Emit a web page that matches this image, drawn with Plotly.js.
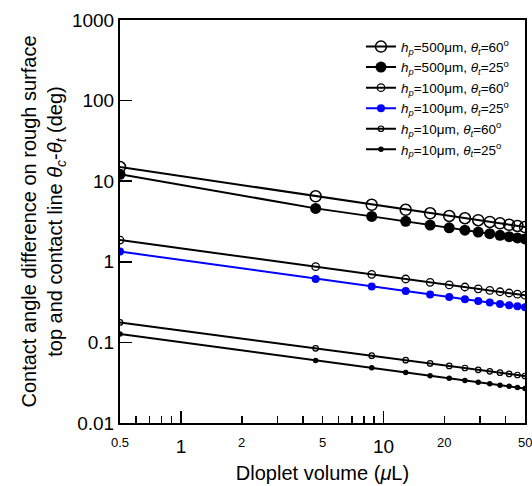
<!DOCTYPE html>
<html>
<head>
<meta charset="utf-8">
<script src="https://cdn.plot.ly/plotly-3.0.1.min.js"></script>
<style>html,body{margin:0;padding:0;background:#fff;}#chart{width:532px;height:486px;}</style>
</head>
<body>
<div id="chart"></div>
<script>
// Droplet volume (µL)
const volume = [0.5, 4.625, 8.75, 12.875, 17, 21.125, 25.25, 29.375, 33.5, 37.625, 41.75, 45.875, 50];
// Contact angle difference (deg)
const hp500_t60 = [15.0, 6.5, 5.1, 4.42, 4.0, 3.70, 3.47, 3.28, 3.12, 3.0, 2.88, 2.78, 2.70];
const hp500_t25 = [12.2, 4.6, 3.66, 3.18, 2.86, 2.64, 2.47, 2.34, 2.23, 2.13, 2.05, 1.98, 1.92];
const hp100_t60 = [1.86, 0.87, 0.70, 0.612, 0.557, 0.517, 0.487, 0.462, 0.442, 0.425, 0.410, 0.397, 0.385];
const hp100_t25 = [1.34, 0.612, 0.493, 0.433, 0.394, 0.365, 0.344, 0.327, 0.312, 0.300, 0.290, 0.281, 0.272];
const hp10_t60 = [0.177, 0.0845, 0.0684, 0.0601, 0.0548, 0.0510, 0.0481, 0.0457, 0.0438, 0.0421, 0.0406, 0.0394, 0.0383];
const hp10_t25 = [0.127, 0.0598, 0.0483, 0.0424, 0.0386, 0.0358, 0.0337, 0.0321, 0.0307, 0.0295, 0.0285, 0.0276, 0.0268];

const seriesNames = [
  '<i>h</i><sub><i>p</i></sub>=500\u03bcm, <i>\u03b8</i><sub><i>t</i></sub>=60<sup>o</sup>',
  '<i>h</i><sub><i>p</i></sub>=500\u03bcm, <i>\u03b8</i><sub><i>t</i></sub>=25<sup>o</sup>',
  '<i>h</i><sub><i>p</i></sub>=100\u03bcm, <i>\u03b8</i><sub><i>t</i></sub>=60<sup>o</sup>',
  '<i>h</i><sub><i>p</i></sub>=100\u03bcm, <i>\u03b8</i><sub><i>t</i></sub>=25<sup>o</sup>',
  '<i>h</i><sub><i>p</i></sub>=10\u03bcm, <i>\u03b8</i><sub><i>t</i></sub>=60<sup>o</sup>',
  '<i>h</i><sub><i>p</i></sub>=10\u03bcm, <i>\u03b8</i><sub><i>t</i></sub>=25<sup>o</sup>'
];

const yTickVals = [0.01, 0.1, 1, 10, 100, 1000];
const yTickText = ['0.01', '0.1', '1', '10', '100', '1000'];
const xMajorVals = [1, 10];
const xMajorText = ['1', '10'];
const xMinorVals = [0.6, 0.7, 0.8, 0.9, 2, 3, 4, 5, 6, 7, 8, 9, 20, 30, 40];
const xMinorLabelVals = [0.5, 2, 5, 20, 50];
const xMinorLabelText = ['0.5', '2', '5', '20', '50'];

const FONT = 'Liberation Sans, Arial, Helvetica, sans-serif';

function mk(y, name, color, symbol, size, lw) {
  return {
    x: volume, y: y, name: name, type: 'scatter', mode: 'lines+markers',
    line: {color: color, width: 2},
    marker: {symbol: symbol, size: size, color: color, line: {color: color, width: lw}}
  };
}

const data = [
  mk(hp500_t60, seriesNames[0], '#000', 'circle-open', 11, 1.5),
  mk(hp500_t25, seriesNames[1], '#000', 'circle', 11, 0),
  mk(hp100_t60, seriesNames[2], '#000', 'circle-open', 7.5, 1.3),
  mk(hp100_t25, seriesNames[3], '#0000ff', 'circle', 8, 0),
  mk(hp10_t60, seriesNames[4], '#000', 'circle-open', 5.5, 1.2),
  mk(hp10_t25, seriesNames[5], '#000', 'circle', 5.5, 0)
];

// small (minor) x tick labels, placed through the x axis (log axis -> log10 position)
const minorLabelAnnotations = xMinorLabelVals.map((v, i) => ({
  x: Math.log10(v), xref: 'x', y: 0, yref: 'paper',
  xanchor: 'center', yanchor: 'top', yshift: -10,
  text: xMinorLabelText[i], showarrow: false,
  font: {size: 13, family: FONT, color: '#000'}
}));

const layout = {
  width: 532, height: 486,
  margin: {l: 120, r: 7, t: 20, b: 63},
  paper_bgcolor: '#fff', plot_bgcolor: '#fff',
  font: {family: FONT, color: '#000'},
  showlegend: true,
  legend: {x: 0.595, y: 0.972, xanchor: 'left', yanchor: 'top', bgcolor: 'rgba(0,0,0,0)',
           font: {size: 13.5, family: FONT}, borderwidth: 0},
  xaxis: {
    type: 'log', range: [Math.log10(0.5), Math.log10(50)],
    tickmode: 'array', tickvals: xMajorVals, ticktext: xMajorText,
    ticks: 'inside', ticklen: 12, tickwidth: 1.5, tickcolor: '#000',
    tickfont: {size: 19}, ticklabelstandoff: 5,
    minor: {tickmode: 'array', tickvals: xMinorVals, ticks: 'inside', ticklen: 7, tickwidth: 1.5, tickcolor: '#000', showgrid: false},
    showline: true, linewidth: 2, linecolor: '#000', mirror: true,
    showgrid: false, zeroline: false,
    title: {text: 'Dloplet volume (<i>\u03bc</i>L)', font: {size: 20}, standoff: 10}
  },
  yaxis: {
    type: 'log', range: [-2, 3],
    tickmode: 'array', tickvals: yTickVals, ticktext: yTickText,
    ticks: 'inside', ticklen: 12, tickwidth: 1.5, tickcolor: '#000',
    tickfont: {size: 19},
    showline: true, linewidth: 2, linecolor: '#000', mirror: true,
    showgrid: false, zeroline: false,
    title: {text: 'Contact angle difference on rough surface<br>top and contact line <i>\u03b8</i><sub><i>c</i></sub>-<i>\u03b8</i><sub><i>t</i></sub> (deg)', font: {size: 20}, standoff: 4}
  },
  annotations: minorLabelAnnotations
};

Plotly.newPlot('chart', data, layout, {displayModeBar: false, staticPlot: true});
</script>
</body>
</html>
